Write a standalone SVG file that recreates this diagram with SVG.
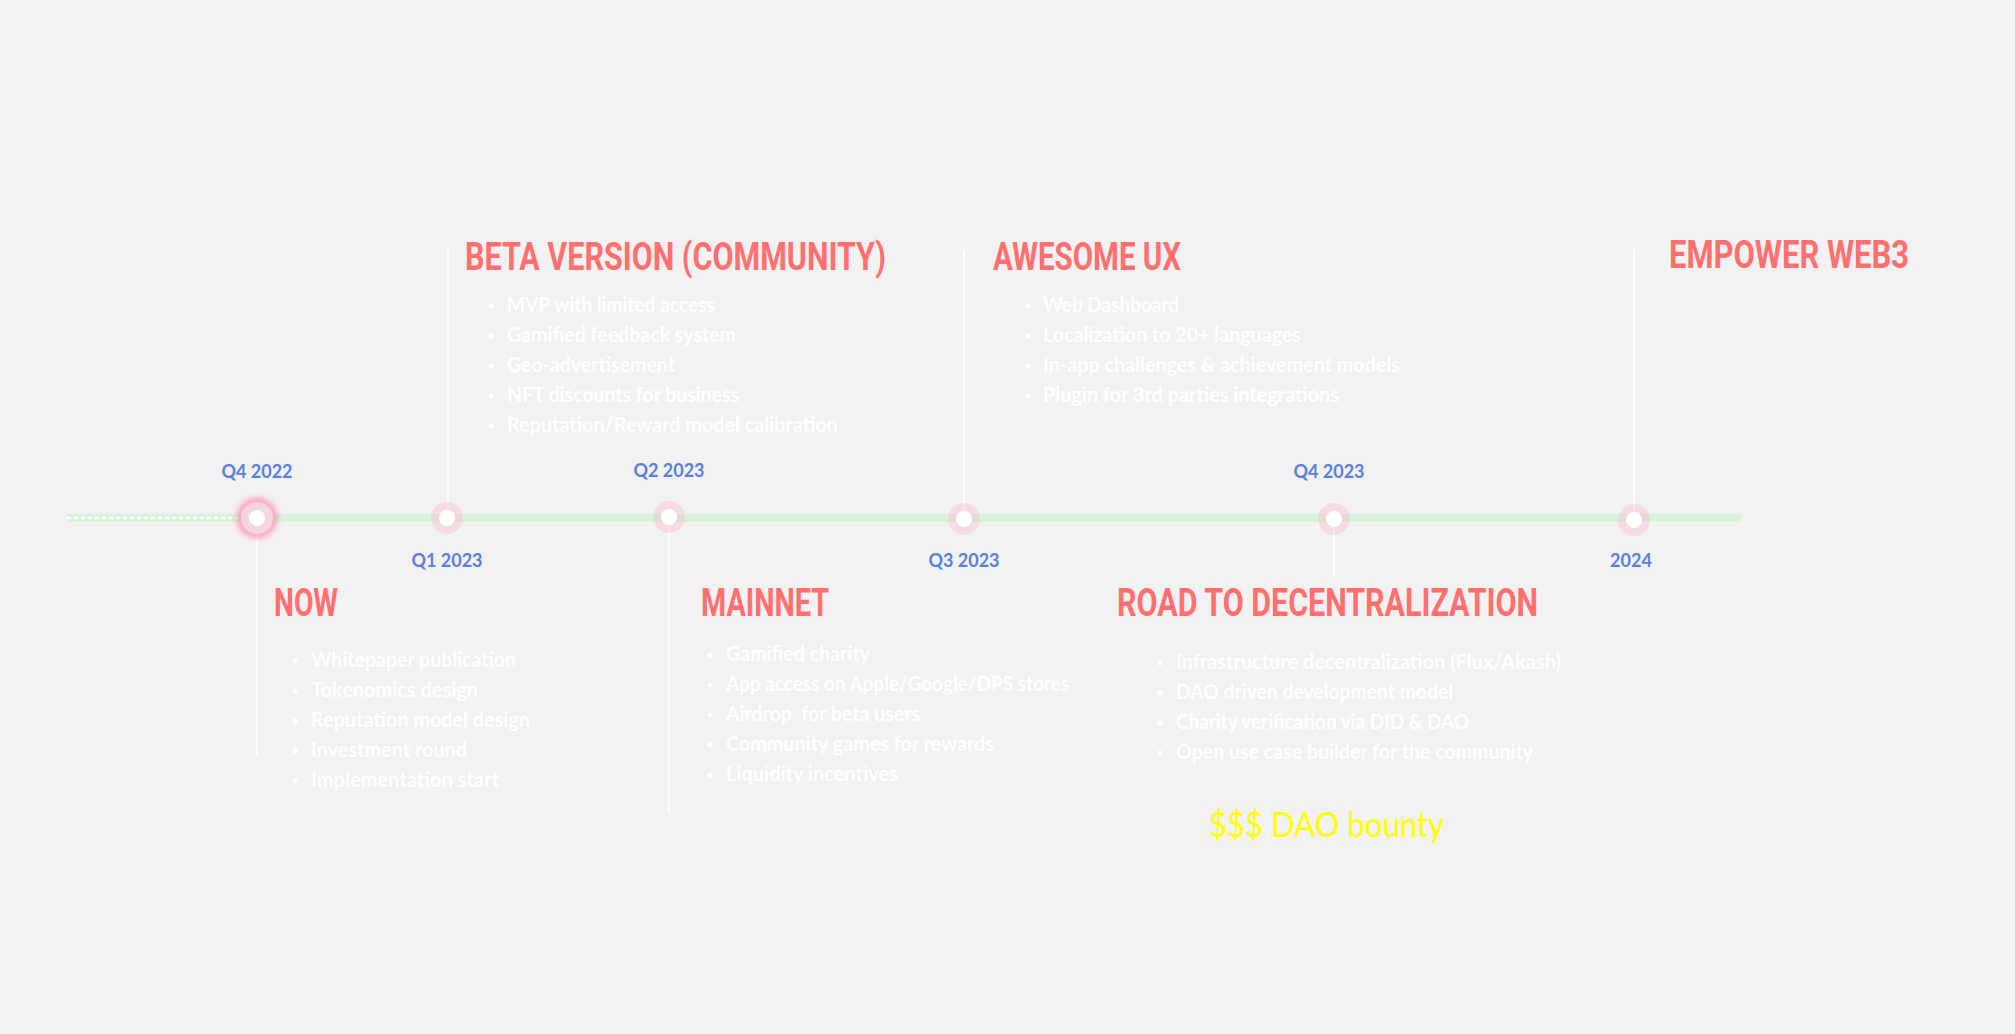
<svg xmlns="http://www.w3.org/2000/svg" width="2015" height="1034" viewBox="0 0 2015 1034">
<defs>
<filter id="glow" x="-1" y="-1" width="3" height="3"><feGaussianBlur stdDeviation="3"/></filter>
<style>
.title{font-family:"Roboto","Liberation Sans",sans-serif;font-weight:700;font-size:38px;fill:#FF6F6F}
.date{font-family:"Lato","Liberation Sans",sans-serif;font-weight:700;font-size:18px;fill:#5A7FDF;text-anchor:middle}
.item{font-family:"Lato","Liberation Sans",sans-serif;font-weight:700;font-size:20px;fill:#FFFFFF}
.dot{fill:#FFFFFF}
.ring{fill:#FFAABE;fill-opacity:0.3}
.core{fill:#FFFFFF}
.stem{stroke:#FFFFFF;stroke-width:1.5}
.bounty{font-family:"Lato","Liberation Sans",sans-serif;font-size:34px;fill:#FFFF00}
</style>
</defs>
<rect width="2015" height="1034" fill="#F2F2F2"/>
<g id="connectors">
<rect x="67" y="514" width="1675" height="8" fill="#D9F2DC"/>
<line x1="67" y1="518" x2="247" y2="518" stroke="#FFFFFF" stroke-width="2.5" stroke-dasharray="4 3"/>
<line class="stem" x1="257" y1="526" x2="257" y2="755"/>
<line class="stem" x1="448" y1="250" x2="448" y2="510"/>
<line class="stem" x1="669" y1="525" x2="669" y2="813"/>
<line class="stem" x1="964" y1="250" x2="964" y2="511"/>
<line class="stem" x1="1334" y1="527" x2="1334" y2="576"/>
<line class="stem" x1="1634" y1="250" x2="1634" y2="512"/>
</g>
<g id="node-q4-2022">
<circle cx="257" cy="518" r="17" fill="none" stroke="#FF7FA6" stroke-width="5" filter="url(#glow)"/>
<circle cx="257" cy="518" r="16" fill="#F5D6DF"/>
<circle class="core" cx="257" cy="518" r="8"/>
<text class="date" x="257" y="478">Q4 2022</text>
<text class="title" x="274" y="616" textLength="64" lengthAdjust="spacingAndGlyphs">NOW</text>
<circle class="dot" cx="295" cy="661" r="2.5"/><text class="item" x="311" y="667" textLength="205" lengthAdjust="spacingAndGlyphs">Whitepaper publication</text>
<circle class="dot" cx="295" cy="691" r="2.5"/><text class="item" x="311" y="697" textLength="167" lengthAdjust="spacingAndGlyphs">Tokenomics design</text>
<circle class="dot" cx="295" cy="721" r="2.5"/><text class="item" x="311" y="727" textLength="219" lengthAdjust="spacingAndGlyphs">Reputation model design</text>
<circle class="dot" cx="295" cy="751" r="2.5"/><text class="item" x="311" y="757" textLength="156" lengthAdjust="spacingAndGlyphs">Investment round</text>
<circle class="dot" cx="295" cy="781" r="2.5"/><text class="item" x="311" y="787" textLength="188" lengthAdjust="spacingAndGlyphs">Implementation start</text>
</g>
<g id="node-q1-2023">
<circle class="ring" cx="447" cy="518" r="16"/>
<circle class="core" cx="447" cy="518" r="8"/>
<text class="date" x="447" y="567">Q1 2023</text>
<text class="title" x="465" y="270" textLength="421" lengthAdjust="spacingAndGlyphs">BETA VERSION (COMMUNITY)</text>
<circle class="dot" cx="491" cy="306" r="2.5"/><text class="item" x="507" y="312" textLength="208" lengthAdjust="spacingAndGlyphs">MVP with limited access</text>
<circle class="dot" cx="491" cy="336" r="2.5"/><text class="item" x="507" y="342" textLength="229" lengthAdjust="spacingAndGlyphs">Gamified feedback system</text>
<circle class="dot" cx="491" cy="366" r="2.5"/><text class="item" x="507" y="372" textLength="168" lengthAdjust="spacingAndGlyphs">Geo-advertisement</text>
<circle class="dot" cx="491" cy="396" r="2.5"/><text class="item" x="507" y="402" textLength="232" lengthAdjust="spacingAndGlyphs">NFT discounts for business</text>
<circle class="dot" cx="491" cy="426" r="2.5"/><text class="item" x="507" y="432" textLength="331" lengthAdjust="spacingAndGlyphs">Reputation/Reward model calibration</text>
</g>
<g id="node-q2-2023">
<circle class="ring" cx="669" cy="517" r="16"/>
<circle class="core" cx="669" cy="517" r="8"/>
<text class="date" x="669" y="477">Q2 2023</text>
<text class="title" x="701" y="616" textLength="128" lengthAdjust="spacingAndGlyphs">MAINNET</text>
<circle class="dot" cx="710" cy="655" r="2.5"/><text class="item" x="726" y="661" textLength="144" lengthAdjust="spacingAndGlyphs">Gamified charity</text>
<circle class="dot" cx="710" cy="685" r="2.5"/><text class="item" x="726" y="691" textLength="343" lengthAdjust="spacingAndGlyphs">App access on Apple/Google/DPS stores</text>
<circle class="dot" cx="710" cy="715" r="2.5"/><text class="item" x="726" y="721" textLength="194" lengthAdjust="spacingAndGlyphs" xml:space="preserve">Airdrop  for beta users</text>
<circle class="dot" cx="710" cy="745" r="2.5"/><text class="item" x="726" y="751" textLength="268" lengthAdjust="spacingAndGlyphs">Community games for rewards</text>
<circle class="dot" cx="710" cy="775" r="2.5"/><text class="item" x="726" y="781" textLength="172" lengthAdjust="spacingAndGlyphs">Liquidity incentives</text>
</g>
<g id="node-q3-2023">
<circle class="ring" cx="964" cy="519" r="16"/>
<circle class="core" cx="964" cy="519" r="8"/>
<text class="date" x="964" y="567">Q3 2023</text>
<text class="title" x="993" y="270" textLength="188" lengthAdjust="spacingAndGlyphs">AWESOME UX</text>
<circle class="dot" cx="1028" cy="306" r="2.5"/><text class="item" x="1043" y="312" textLength="136" lengthAdjust="spacingAndGlyphs">Web Dashboard</text>
<circle class="dot" cx="1028" cy="336" r="2.5"/><text class="item" x="1043" y="342" textLength="258" lengthAdjust="spacingAndGlyphs">Localization to 20+ languages</text>
<circle class="dot" cx="1028" cy="366" r="2.5"/><text class="item" x="1043" y="372" textLength="357" lengthAdjust="spacingAndGlyphs">In-app challenges &amp; achievement models</text>
<circle class="dot" cx="1028" cy="396" r="2.5"/><text class="item" x="1043" y="402" textLength="296" lengthAdjust="spacingAndGlyphs">Plugin for 3rd parties integrations</text>
</g>
<g id="node-q4-2023">
<circle class="ring" cx="1334" cy="519" r="16"/>
<circle class="core" cx="1334" cy="519" r="8"/>
<text class="date" x="1329" y="478">Q4 2023</text>
<text class="title" x="1117" y="616" textLength="421" lengthAdjust="spacingAndGlyphs">ROAD TO DECENTRALIZATION</text>
<circle class="dot" cx="1160" cy="663" r="2.5"/><text class="item" x="1176" y="669" textLength="385" lengthAdjust="spacingAndGlyphs">Infrastructure decentralization (Flux/Akash)</text>
<circle class="dot" cx="1160" cy="693" r="2.5"/><text class="item" x="1176" y="699" textLength="277" lengthAdjust="spacingAndGlyphs">DAO driven development model</text>
<circle class="dot" cx="1160" cy="723" r="2.5"/><text class="item" x="1176" y="729" textLength="293" lengthAdjust="spacingAndGlyphs">Charity verification via DID &amp; DAO</text>
<circle class="dot" cx="1160" cy="753" r="2.5"/><text class="item" x="1176" y="759" textLength="357" lengthAdjust="spacingAndGlyphs">Open use case builder for the community</text>
<text class="bounty" x="1209" y="837" textLength="235" lengthAdjust="spacingAndGlyphs">$$$ DAO bounty</text>
</g>
<g id="node-2024">
<circle class="ring" cx="1634" cy="520" r="16"/>
<circle class="core" cx="1634" cy="520" r="8"/>
<text class="date" x="1631" y="567">2024</text>
<text class="title" x="1669" y="268" textLength="240" lengthAdjust="spacingAndGlyphs">EMPOWER WEB3</text>
</g>
</svg>
